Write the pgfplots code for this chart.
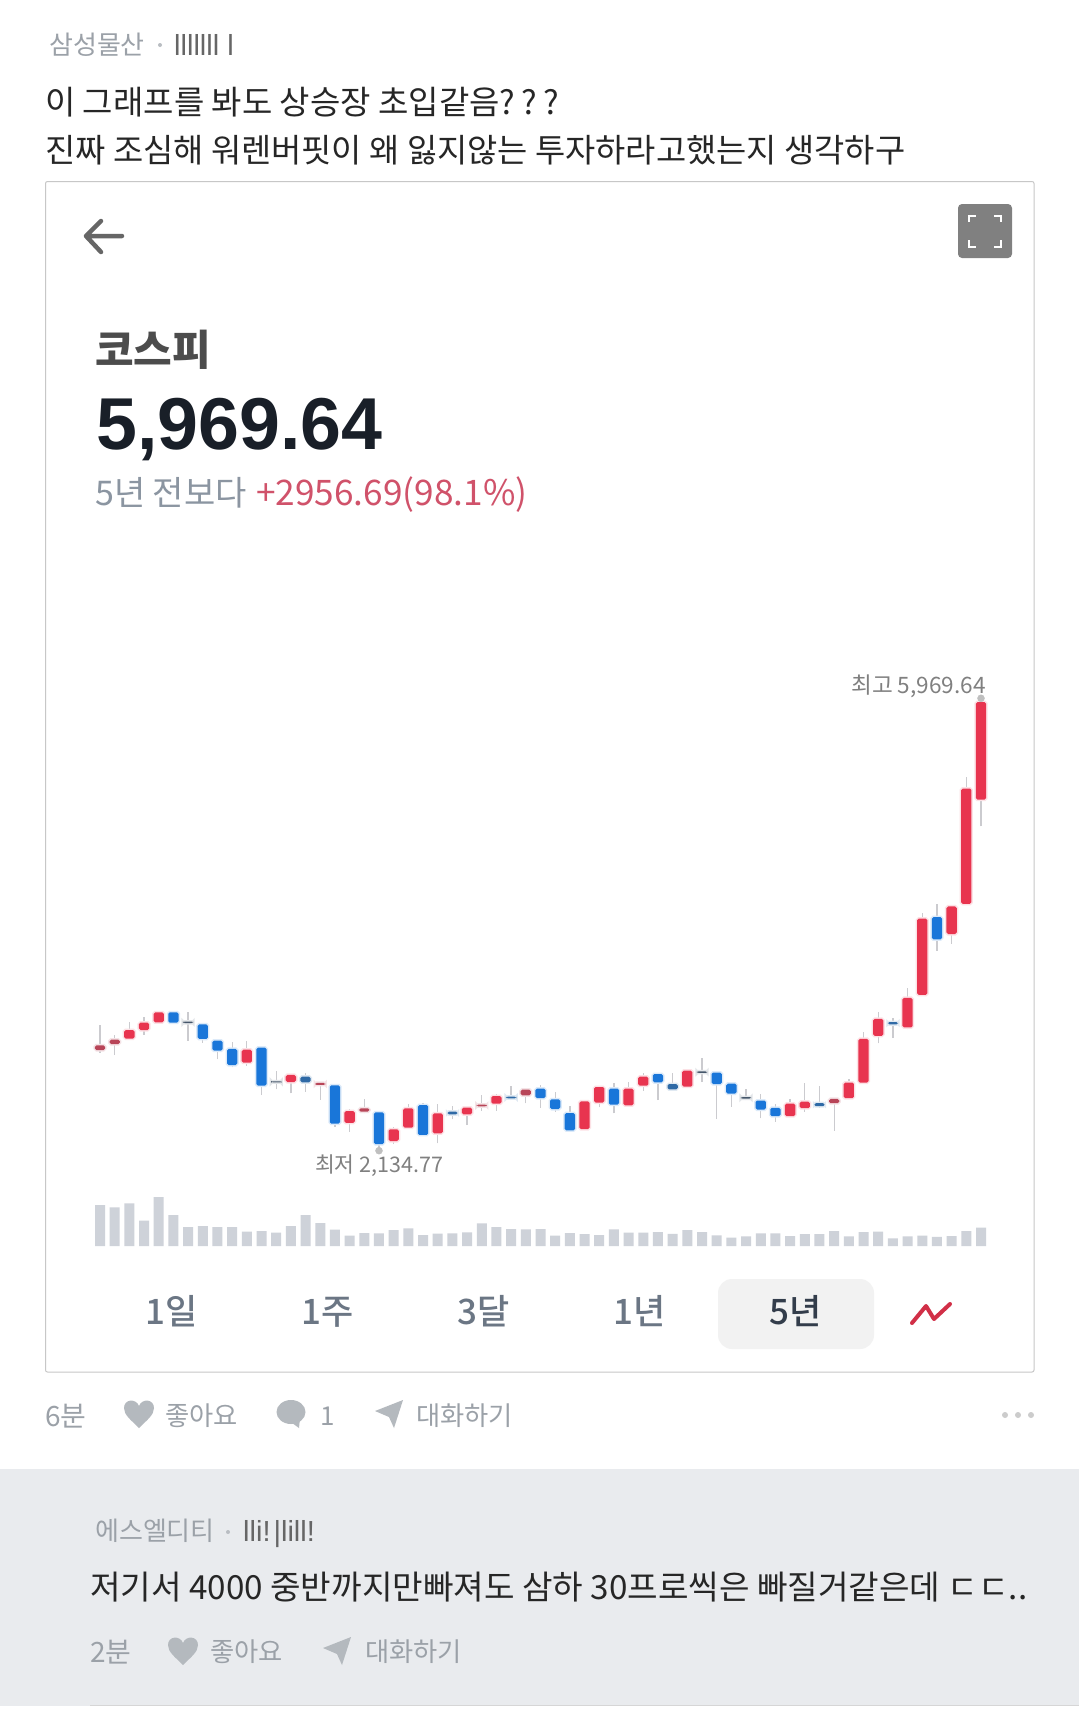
\documentclass[border=0pt]{standalone}
\usepackage{pgfplots}
\usepackage{pgfplotstable}
\usepackage{fontspec}
\pgfplotsset{compat=1.18}
\setmainfont{Noto Sans CJK KR}
\newfontfamily\num{Liberation Sans}
\newfontfamily\med{Noto Sans CJK KR Medium}
\definecolor{r}{HTML}{E8344F}
\definecolor{b}{HTML}{1976D9}
\definecolor{R}{HTML}{B84558}
\definecolor{B}{HTML}{2F6AA6}
\definecolor{K}{HTML}{45566A}
\definecolor{wick}{HTML}{CBCBCF}
\definecolor{vol}{HTML}{CED2D9}
\definecolor{ink}{HTML}{262626}
\definecolor{gr}{HTML}{9BA1A8}
\definecolor{panel}{HTML}{E9EBEE}
\pgfplotstableread{
x o h l c k v
0 2988 3200 2966 3028 R 41
1 3039 3116 2946 3076 R 38.7
2 3085 3229 3079 3158 r 42.7
3 3158 3271 3116 3220 r 25.3
4 3223 3322 3215 3308 r 49
5 3308 3313 3215 3220 b 31
6 3229 3313 3065 3217 K 19
7 3206 3220 3051 3082 b 20
8 3068 3073 2909 2983 b 19
9 2997 3053 2842 2861 b 19
10 2881 3065 2853 2991 r 14.3
11 3008 3025 2607 2686 b 15
12 2723 2813 2655 2714 K 13.3
13 2717 2782 2621 2777 r 20
14 2762 2791 2635 2714 B 31
15 2692 2720 2565 2709 R 23
16 2689 2700 2339 2364 b 16.3
17 2370 2485 2296 2471 r 10.3
18 2466 2573 2452 2494 R 13
19 2460 2474 2135 2191.5 b 12.7
20 2217 2333 2191.5 2316 r 16
21 2330 2528 2324 2494 r 17.7
22 2522 2536 2262 2268 b 11
23 2282 2531 2197 2451.5 r 12.3
24 2465.6 2516.5 2400.7 2443 B 12.7
25 2443 2513.7 2352.6 2499.5 r 13.7
26 2511 2609.7 2474 2525 R 22.7
27 2533.5 2615.4 2474 2598.4 r 19
28 2592.8 2683.2 2564.5 2578.7 B 17
29 2604 2663.4 2536.3 2652 R 16.7
30 2660.6 2691.7 2499.5 2581.5 b 17
31 2570.2 2635.2 2465.6 2488.2 b 10.3
32 2454.3 2513.7 2301.7 2307.4 b 13
33 2318.7 2556 2315.9 2553.2 r 12
34 2541.9 2683.2 2502.4 2674.7 r 11
35 2660.6 2705.8 2451.5 2525 b 16.7
36 2519.3 2719.9 2513.7 2660.6 r 13.3
37 2686 2796.2 2643.6 2762.3 r 13.3
38 2784.9 2790.6 2564.5 2714.3 b 14
39 2699.9 2797.3 2654.5 2654.5 B 12.2
40 2677.2 2823.2 2674 2813.5 r 16
41 2807 2920.5 2716.1 2794 K 14
42 2797.2 2800.4 2401.5 2699.9 b 10.7
43 2703.1 2709.7 2508.5 2618.8 b 8.4
44 2589.6 2661 2563.7 2576.6 K 9.6
45 2560.4 2618.8 2408 2482.6 b 12.6
46 2498.8 2531.2 2378.8 2427.4 b 12.6
47 2427.4 2573.4 2417.7 2534.5 r 10
48 2495.5 2709.7 2466.3 2550.7 r 11.9
49 2537.7 2683.7 2498.8 2511.8 B 11.9
50 2537.7 2579.9 2304.1 2573.4 R 15
51 2579.9 2742.1 2570 2712.9 r 9.6
52 2712.9 3141.1 2709.7 3082.7 r 14
53 3108.7 3309.8 3043.8 3251.4 r 14.5
54 3225.5 3261.2 3089.2 3206 B 7.7
55 3180.1 3511 3163.8 3429.9 r 9.6
56 3455.8 4153.3 3452.6 4101.4 r 10.3
57 4114.4 4227.9 3828.9 3926.2 b 9.2
58 3971.7 4208.5 3887.3 4205.2 r 10
59 4227.9 5305 4224.7 5204.5 r 15
60 5110.4 5969.6 4883.3 5937.6 r 18.4
}\tbl
% x, centre y, size, colour, text
\newcommand{\T}[6][west]{\node[anchor=base #1,inner sep=0,text=#5,font=\fontsize{#4}{#4}\selectfont] at (#2,#3+0.36*#4) {#6};}
\newcommand{\heart}[2]{\fill[fill=HeartC,shift={(#1,#2)}] (0,14) .. controls (-8,6) and (-15,1) .. (-15,-6) .. controls (-15,-15) and (-3,-16) .. (0,-8) .. controls (3,-16) and (15,-15) .. (15,-6) .. controls (15,1) and (8,6) .. (0,14) -- cycle;}
\newcommand{\plane}[2]{\fill[fill=HeartC,shift={(#1,#2)}] (-14,-3) -- (14,-14) -- (5,14) -- (0,3) -- cycle;}
\definecolor{HeartC}{HTML}{B4B9BE}
\begin{document}
\begin{tikzpicture}
\begin{scope}[x=1pt,y=-1pt]
\path[use as bounding box,fill=white] (0,0) rectangle (1079,1735);
\fill[panel] (0,1469) rectangle (1079,1706);
\draw[line width=1,color=black!16] (90,1705.5) -- (1079,1705.5);
% header
\T{49}{45}{26}{gr}{삼성물산}
\fill[gr!70] (160,45) circle (2);
\T{174}{45}{29}{black!60}{\num lllllll l}
\T{45}{103}{33}{ink}{이 그래프를 봐도 상승장 초입같음?\hspace{6pt}?\hspace{6pt}?}
\T{45}{151}{32.85}{ink}{진짜 조심해 워렌버핏이 왜 잃지않는 투자하라고했는지 생각하구}
% card
\draw[line width=1,color=black!22,rounded corners=2] (45.5,181.5) rectangle (1034,1372);
\draw[line width=4.5,color=black!60,line cap=round,line join=round] (122,236) -- (86,236) (101,221) -- (86,236) -- (101,252);
\fill[black!50,rounded corners=4] (958,204) rectangle (1012,258);
\draw[white,line width=2] (969,222) -- (969,215.5) -- (976,215.5) (994,215.5) -- (1001,215.5) -- (1001,222) (969,240) -- (969,246.5) -- (976,246.5) (994,246.5) -- (1001,246.5) -- (1001,240);
\T{95}{350}{42}{black!70}{\bfseries 코스피}
\definecolor{big}{HTML}{191F28}
\T{96}{423}{73.5}{big}{\num\bfseries 5,969.64}
\definecolor{sub}{HTML}{8B95A1}
\definecolor{subr}{HTML}{D0526A}
\T{95}{493}{34}{sub}{5년 전보다}
\T{256}{493}{35.2}{subr}{+2956.69(98.1\%)}
\T[east]{986}{685}{22.6}{black!50}{최고 5,969.64}
\T{315}{1165}{21.5}{black!50}{최저 2,134.77}
% range buttons
\fill[black!5,rounded corners=14] (718,1279) rectangle (874,1349);
\definecolor{rng}{HTML}{6B7684}
\definecolor{rngb}{HTML}{333D4B}
\T[]{172}{1312}{35}{rng}{\med 1일}
\T[]{328}{1312}{35}{rng}{\med 1주}
\T[]{484}{1312}{35}{rng}{\med 3달}
\T[]{640}{1312}{35}{rng}{\med 1년}
\T[]{796}{1312}{35}{rngb}{\med 5년}
\draw[line width=4,color=r!90!black,line join=round,line cap=round] (912,1323) -- (926,1306) -- (934,1319) -- (950,1304);
% footer
\T{45}{1416}{28}{gr}{6분}
\heart{139}{1414}
\T{165}{1416}{26.3}{gr}{좋아요}
\fill[HeartC] (291,1412) ellipse (14.5 and 12);
\fill[HeartC] (288,1420) -- (300,1418) -- (299,1428) -- cycle;
\T{320}{1416}{26}{gr}{1}
\plane{389}{1414}
\T{416}{1416}{26.3}{gr}{대화하기}
\fill[black!20] (1005,1415) circle (3) (1018,1415) circle (3) (1031,1415) circle (3);
% reply
\T{95}{1531}{26}{gr}{에스엘디티}
\fill[gr!70] (228,1532) circle (2);
\T{243}{1531}{29}{black!60}{\num lli!\hspace{3pt}|lill!}
\T{90}{1588}{33.2}{ink}{저기서 4000 중반까지만빠져도 삼하 30프로씩은 빠질거같은데 ㄷㄷ..}
\T{90}{1652}{28}{gr}{2분}
\heart{183}{1651}
\T{210}{1652}{26.3}{gr}{좋아요}
\plane{337}{1651}
\T{365}{1652}{26.3}{gr}{대화하기}
\end{scope}
% candles
\begin{axis}[at={(100pt,-1150.7pt)},anchor=south west,scale only axis,width=881pt,height=452.4pt,
  xmin=0,xmax=60,ymin=2134.77,ymax=5969.64,axis lines=none,clip=false]
\addplot[only marks,mark=*,mark size=3.5pt,color=black!25] coordinates {(19,2135) (60,5969.6)};
\pgfplotsforeachungrouped \i in {0,...,60}{
  \pgfplotstablegetelem{\i}{o}\of\tbl \let\vo\pgfplotsretval
  \pgfplotstablegetelem{\i}{h}\of\tbl \let\vh\pgfplotsretval
  \pgfplotstablegetelem{\i}{l}\of\tbl \let\vl\pgfplotsretval
  \pgfplotstablegetelem{\i}{c}\of\tbl \let\vc\pgfplotsretval
  \pgfplotstablegetelem{\i}{k}\of\tbl \let\vk\pgfplotsretval
  \pgfmathsetmacro\xa{\i-0.35}
  \pgfmathsetmacro\xb{\i+0.35}
  \edef\doit{
    \noexpand\addplot[wick,line width=1.3pt] coordinates {(\i,\vl) (\i,\vh)};
    \noexpand\addplot[draw=\vk!15,line width=3pt,rounded corners=1.6pt] coordinates {(\xa,\vo) (\xb,\vo) (\xb,\vc) (\xa,\vc)} --cycle;
    \noexpand\addplot[draw=none,fill=\vk,rounded corners=1.6pt] coordinates {(\xa,\vo) (\xb,\vo) (\xb,\vc) (\xa,\vc)} --cycle;
  }
  \doit
}
\end{axis}
% volume
\begin{axis}[at={(100pt,-1246pt)},anchor=south west,scale only axis,width=881pt,height=60pt,
  xmin=0,xmax=60,ymin=0,ymax=60,axis lines=none,clip=false,ybar,bar width=10pt]
\addplot[draw=none,fill=vol] table[x=x,y=v] {\tbl};
\end{axis}
\end{tikzpicture}
\end{document}
